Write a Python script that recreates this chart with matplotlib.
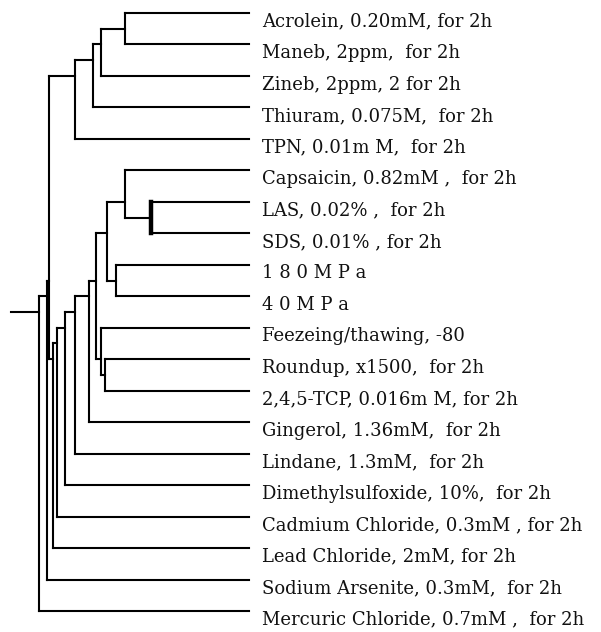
import numpy as np
import matplotlib
matplotlib.use("Agg")
import matplotlib.pyplot as plt

# Названия образцов (листья дерева, сверху вниз)
labels = [
    "Acrolein, 0.20mM, for 2h",
    "Maneb, 2ppm,  for 2h",
    "Zineb, 2ppm, 2 for 2h",
    "Thiuram, 0.075M,  for 2h",
    "TPN, 0.01m M,  for 2h",
    "Capsaicin, 0.82mM ,  for 2h",
    "LAS, 0.02% ,  for 2h",
    "SDS, 0.01% , for 2h",
    "1 8 0 M P a",
    "4 0 M P a",
    "Feezeing/thawing, -80",
    "Roundup, x1500,  for 2h",
    "2,4,5-TCP, 0.016m M, for 2h",
    "Gingerol, 1.36mM,  for 2h",
    "Lindane, 1.3mM,  for 2h",
    "Dimethylsulfoxide, 10%,  for 2h",
    "Cadmium Chloride, 0.3mM , for 2h",
    "Lead Chloride, 2mM, for 2h",
    "Sodium Arsenite, 0.3mM,  for 2h",
    "Mercuric Chloride, 0.7mM ,  for 2h",
]

# Слияния кластеров: (потомок 1, потомок 2, высота); новые узлы нумеруются с 20
merge_a = [0, 20, 21, 22, 6, 5, 8, 25, 11, 10, 27, 30, 31, 32, 33, 34, 23, 36, 37]
merge_b = [1, 2, 3, 4, 7, 24, 9, 26, 12, 28, 29, 13, 14, 15, 16, 17, 35, 18, 19]
merge_h = [124.0, 148.3, 155.7, 173.7, 98.3, 124.0, 133.3, 141.7, 144.0, 148.3,
           153.3, 160.0, 173.7, 184.0, 191.7, 196.0, 200.5, 201.7, 210.0]
root_stub = 238.0
thick_nodes = [24]  # узел LAS/SDS нарисован жирной линией

n = len(labels)
height = [0.0] * n
members = [[i] for i in range(n)]
for a, b, h in zip(merge_a, merge_b, merge_h):
    height.append(h)
    members.append(members[a] + members[b])
ypos = [float(np.mean(m)) for m in members]

fig = plt.figure(figsize=(6.01, 6.32), dpi=100)
ax = fig.add_axes([0, 0, 1, 1])
lw = 1.5

for k, (a, b, h) in enumerate(zip(merge_a, merge_b, merge_h)):
    node = n + k
    for c in (a, b):
        ax.plot([height[c], h], [ypos[c], ypos[c]], color="black", lw=lw,
                solid_capstyle="projecting")
    ax.plot([h, h], [ypos[a], ypos[b]], color="black",
            lw=3.2 if node in thick_nodes else lw, solid_capstyle="projecting")

root = len(height) - 1
ax.plot([height[root], root_stub], [ypos[root], ypos[root]], color="black", lw=lw)

for i, lab in enumerate(labels):
    ax.annotate(lab, xy=(0, i), xytext=(9.4, -9.8), textcoords="offset points",
                va="baseline", ha="left", fontsize=13.0, family="DejaVu Serif",
                color="#111111")

ax.set_xlim(249, 249 - 601)
ax.set_ylim(19 + 21 / 31.47, -13 / 31.47)
ax.axis("off")

fig.savefig("out.png", dpi=100)
